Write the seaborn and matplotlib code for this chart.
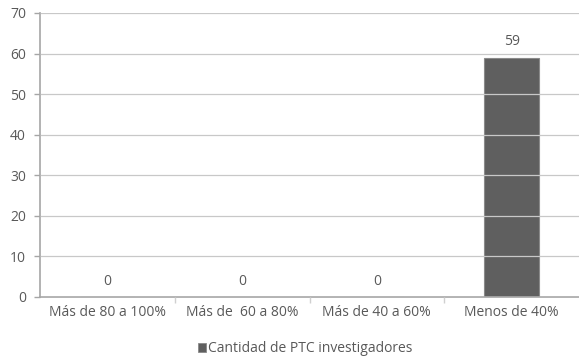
import matplotlib
matplotlib.use("Agg")
import matplotlib.pyplot as plt
import seaborn as sns
import pandas as pd
from matplotlib.patches import Patch
from matplotlib.ticker import FixedLocator

categories = ["Más de 80 a 100%", "Más de  60 a 80%", "Más de 40 a 60%", "Menos de 40%"]
values = [0, 0, 0, 59]
series_name = "Cantidad de PTC investigadores"
y_ticks = [0, 10, 20, 30, 40, 50, 60, 70]

sns.set_theme(style="white")
plt.rcParams['font.family'] = ['Open Sans', 'DejaVu Sans']
text_color = "#595959"
axis_color = "#a6a6a6"

df = pd.DataFrame({"cat": categories, "val": values})

fig = plt.figure(figsize=(5.79, 3.60), dpi=100)
ax = fig.add_axes([40 / 579, 1 - 297 / 360, 1 - 40 / 579, (297 - 13) / 360])

sns.barplot(data=df, x="cat", y="val", color="#5f5f5f", width=0.41,
            edgecolor="#8a8a8a", linewidth=0.8, saturation=1, ax=ax, zorder=2)

for c in ax.containers:
    ax.bar_label(c, labels=[str(v) for v in values], padding=6,
                 color=text_color, fontsize=10)

ax.set_ylim(0, 70)
ax.set_xlim(-0.5, 3.5)
ax.set_yticks(y_ticks)
ax.yaxis.grid(True, color="#c8c8c8", linewidth=0.9, zorder=3)
ax.set_axisbelow(False)
for line in ax.get_ygridlines():
    line.set_zorder(3)

ax.set_xlabel("")
ax.set_ylabel("")
for s in ["top", "right"]:
    ax.spines[s].set_visible(False)
for s in ["left", "bottom"]:
    ax.spines[s].set_color(axis_color)
    ax.spines[s].set_linewidth(1.2)

ax.tick_params(axis="y", which="major", length=4, color=axis_color, width=1,
               labelcolor=text_color, labelsize=10, pad=6, left=True)
ax.tick_params(axis="x", which="major", length=0, labelcolor=text_color,
               labelsize=10, pad=6)
ax.xaxis.set_minor_locator(FixedLocator([0.5, 1.5, 2.5]))
ax.tick_params(axis="x", which="minor", length=4, color="#d0d0d0", width=1, bottom=True)

handle = Patch(facecolor="#5f5f5f", edgecolor="#8a8a8a", linewidth=0.6)
fig.legend([handle], [series_name], loc="center", bbox_to_anchor=(305 / 579, 1 - 349 / 360),
           frameon=False, fontsize=10, labelcolor=text_color, handlelength=0.6,
           handleheight=0.6, handletextpad=0.1)

fig.savefig("out.png", dpi=100)
